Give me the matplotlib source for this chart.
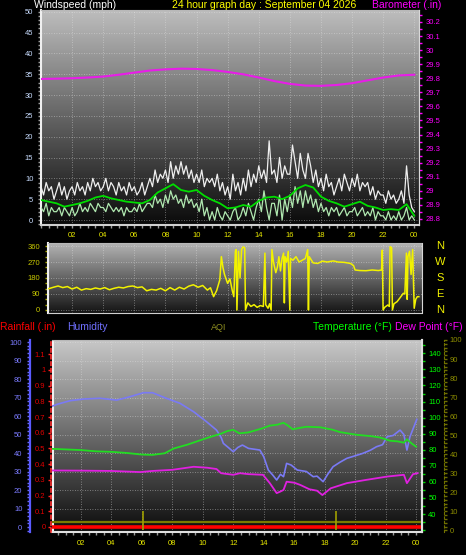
import numpy as np
import matplotlib
matplotlib.use("Agg")
import matplotlib.pyplot as plt
from matplotlib.colors import LinearSegmentedColormap
from matplotlib.ticker import MultipleLocator
from matplotlib.lines import Line2D
import matplotlib.transforms as mtransforms

plt.rcParams['font.family'] = ['Liberation Sans', 'DejaVu Sans']

# ---------------- data ----------------
title_text = "24 hour graph day : September 04 2026"
hour_ticks = list(range(2, 25, 2))
hour_labels = ['%02d' % (h % 24) for h in hour_ticks]

# wind gust (mph), every 10 minutes
gust = [8, 6, 9, 7, 8, 5,
        7, 9, 6, 8, 5, 7,
        8, 6, 9, 7, 8, 6,
        9, 7, 10, 8, 9, 7,
        8, 10, 7, 9, 8, 6,
        9, 7, 8, 6, 9, 7,
        8, 6, 7, 9, 6, 8,
        10, 8, 12, 9, 11, 10,
        12, 9, 14, 10, 13, 11,
        14, 11, 13, 10, 12, 9,
        11, 9, 12, 8, 10, 9,
        10, 8, 11, 7, 9, 6,
        8, 5, 11, 7, 9, 6,
        10, 7, 12, 8, 11, 9,
        13, 10, 12, 9, 19, 11,
        12, 9, 15, 10, 13, 11,
        11, 18, 14, 10, 16, 12,
        10, 16, 13, 9, 12, 8,
        10, 7, 11, 8, 9, 6,
        8, 10, 7, 11, 9, 7,
        10, 8, 11, 7, 9, 8,
        9, 6, 8, 5, 7, 6,
        6, 4, 7, 5, 6, 4,
        5, 7, 4, 13, 6, 3,
        2]
# wind speed (mph), every 10 minutes
wind = [3, 2, 4, 1, 3, 2,
        2, 3, 1, 3, 2, 1,
        3, 1, 2, 4, 2, 3,
        2, 4, 3, 2, 4, 3,
        3, 2, 4, 3, 2, 3,
        2, 3, 1, 3, 2, 2,
        3, 2, 4, 2, 3, 4,
        4, 3, 6, 4, 5, 3,
        6, 4, 7, 5, 6, 4,
        5, 3, 6, 4, 5, 3,
        4, 2, 5, 1, 3, 0,
        2, 0, 3, 1, 0, 2,
        1, 0, 2, 3, 0, 1,
        3, 1, 4, 2, 0, 3,
        5, 2, 7, 3, 0, 4,
        4, 1, 6, 0, 5, 2,
        6, 3, 8, 4, 7, 3,
        7, 4, 6, 3, 5, 2,
        4, 2, 3, 1, 3, 2,
        3, 1, 2, 3, 1, 2,
        2, 3, 1, 2, 3, 1,
        2, 1, 3, 0, 2, 1,
        1, 0, 2, 0, 1, 0,
        2, 0, 1, 3, 0, 1,
        0]
# average wind speed (mph), every 30 minutes
avg_wind = [4.8, 4.4, 4.0, 3.2, 3.6, 4.0, 4.6, 5.4, 5.8, 5.2, 4.8, 4.4, 4.2, 4.0,
            4.8, 6.6, 7.6, 8.6, 7.2, 6.8, 7.2, 5.8, 4.8, 4.0, 2.8, 3.0, 3.6, 3.2,
            4.6, 5.4, 5.6, 5.0, 5.8, 7.6, 8.4, 7.8, 5.6, 4.6, 4.0, 3.2, 3.8, 4.4,
            3.4, 3.0, 2.4, 2.6, 2.4, 3.8, 1.0]

# barometer (inHg), hourly
baro_hours = list(range(0, 25))
baro = [29.795, 29.797, 29.800, 29.805, 29.812, 29.825, 29.840, 29.855, 29.863,
        29.868, 29.866, 29.858, 29.845, 29.828, 29.805, 29.780, 29.760, 29.748,
        29.746, 29.752, 29.765, 29.785, 29.805, 29.820, 29.825]

# wind direction (degrees)
dir_hours = [0.5, 0.8, 1.1, 1.4, 1.7, 2.0, 2.3, 2.6, 2.9, 3.2, 3.5, 3.8, 4.1, 4.4, 4.7,
             5.0, 5.3, 5.6, 5.9, 6.2, 6.5, 6.8, 7.1, 7.4, 7.7, 8.0, 8.3, 8.6, 8.9, 9.2,
             9.5, 9.8, 10.1, 10.4, 10.7, 10.9, 11.1, 11.3, 11.5, 11.6, 11.7, 11.8, 12.0,
             12.15, 12.3, 12.4, 12.5, 12.55, 12.6, 12.7, 12.8, 12.9, 13.0, 13.1, 13.15,
             13.3, 13.5, 13.7, 13.9, 14.1, 14.3, 14.4, 14.45, 14.6, 14.7, 14.8, 14.85,
             14.95, 15.1, 15.2, 15.3, 15.4, 15.5, 15.6, 15.65, 15.7, 15.8, 15.9, 16.0,
             16.05, 16.2, 16.4, 16.6, 16.8, 17.0, 17.15, 17.2, 17.25, 17.5, 17.8, 18.1,
             18.4, 18.8, 19.1, 19.5, 19.9, 20.1, 20.2, 20.5, 20.9, 21.3, 21.7, 21.9,
             21.95, 22.0, 22.1, 22.3, 22.4, 22.45, 22.55, 22.6, 22.7, 22.9, 23.1, 23.3,
             23.4, 23.5, 23.55, 23.6, 23.7, 23.8, 23.9, 24.0, 24.1, 24.2, 24.3]
dir_deg = [120, 128, 135, 126, 132, 118, 128, 112, 120, 116, 124, 118, 126, 114, 122,
           128, 124, 132, 135, 126, 130, 108, 116, 112, 122, 108, 126, 112, 128, 118,
           134, 142, 128, 138, 112, 125, 75, 110, 170, 300, 240, 200, 150,
           175, 110, 75, 330, 340, 0, 330, 180, 340, 355, 350, 0,
           40, 20, 30, 15, 25, 20, 320, 30, 10, 35, 0, 340,
           270, 210, 240, 300, 220, 290, 320, 40, 300, 270, 330, 0,
           290, 280, 300, 270, 280, 290, 340, 0, 300, 265, 262, 275,
           270, 276, 270, 268, 262, 250, 225, 222, 221, 225, 222, 225,
           337, 0, 15, 28, 20, 356, 350, 0, 35, 47, 70, 94,
           90, 320, 60, 300, 330, 200, 340, 10, 60, 75, 75]
compass_labels = ['N', 'W', 'S', 'E', 'N']
compass_deg = [360, 270, 180, 90, 0]

# bottom panel
hum_hours = [0, 0.5, 1.3, 2.2, 3.25, 4.35, 5.2, 6.1, 6.7, 7.6, 8.5, 9.4, 10.25, 10.9,
             11.2, 11.35, 11.6, 12.0, 12.3, 12.6, 13.0, 13.75, 14.0, 14.3, 14.6, 14.85,
             15.1, 15.3, 15.5, 15.8, 16.2, 16.8, 17.25, 17.5, 17.9, 18.2, 18.55, 19.0,
             19.45, 20.0, 20.5, 21.0, 21.4, 21.8, 22.1, 22.5, 22.95, 23.2, 23.4, 23.6,
             23.8, 24.05]
humidity = [65.0, 66.5, 68.3, 69.2, 69.6, 68.6, 70.4, 72.6, 72.6, 69.6, 66.9, 62.3, 56.9,
            52.4, 48.5, 45.2, 43.5, 40.7, 43.0, 44.3, 42.5, 41.6, 38.0, 30.8, 28.0, 25.4,
            28.5, 27.2, 34.4, 33.5, 30.8, 30.0, 27.2, 27.5, 24.5, 28.5, 32.6, 35.0, 37.1,
            38.5, 39.8, 41.5, 43.4, 44.5, 48.8, 49.5, 52.4, 50.0, 41.6, 48.8, 53.0, 58.2]

temp_hours = [0, 1, 2, 3, 4, 5, 6, 6.7, 7.5, 8.1, 9, 9.8, 10.5, 11.2, 11.6, 12.0, 12.4,
              13.0, 13.9, 14.4, 14.9, 15.3, 15.6, 15.9, 16.3, 16.8, 17.7, 18.5, 19.0,
              20.1, 21.0, 21.6, 22.3, 22.8, 23.2, 23.4, 23.7, 24.0]
temperature = [80.6, 80.2, 79.8, 79.0, 78.7, 78.0, 77.0, 76.8, 77.8, 80.8, 83.2, 85.8,
               88.0, 90.0, 91.6, 92.4, 90.2, 90.8, 93.3, 95.0, 95.6, 96.8, 95.0, 92.7,
               93.5, 94.3, 94.0, 92.5, 91.0, 89.3, 88.5, 87.7, 85.6, 85.2, 84.4, 86.5,
               84.0, 81.9]

dew_hours = [0, 2, 4, 5.9, 6.7, 8, 9.4, 10.3, 10.9, 11.2, 12.0, 12.44, 13.0, 13.95, 14.4,
             14.85, 15.1, 15.3, 15.5, 16.0, 16.4, 17.0, 17.5, 17.85, 18.4, 19.45, 20.7,
             22.1, 23.2, 23.4, 23.6, 23.8, 24.1]
dew_point = [67.1, 67.0, 66.8, 66.1, 66.8, 67.5, 69.4, 68.8, 68.0, 65.4, 64.4, 65.4, 64.8,
             64.4, 59.2, 53.0, 54.0, 55.0, 60.1, 59.5, 58.1, 55.4, 54.5, 51.8, 56.0, 59.2,
             61.2, 63.3, 64.4, 59.2, 62.0, 64.8, 65.4]

rain_hours = [0, 24.4]
rainfall = [0.0, 0.0]

aqi_hours = [0, 24.4]
aqi = [4.5, 4.5]
aqi_spike_hours = [6.05, 18.75]
aqi_spike_vals = [10, 10]

# ---------------- layout ----------------
W, H = 466, 555
DPI = 100
PT = 72.0 / DPI

fig = plt.figure(figsize=(W / DPI, H / DPI), dpi=DPI, facecolor='black')


def px_axes(l, t, r, b):
    ax = fig.add_axes([l / W, 1 - b / H, (r - l) / W, (b - t) / H])
    ax.set_facecolor('black')
    return ax


def gradient(ax, top, bottom):
    cmap = LinearSegmentedColormap.from_list('g', [bottom, top])
    g = np.linspace(1, 0, 256).reshape(-1, 1)
    ax.imshow(g, extent=[0, 1, 0, 1], transform=ax.transAxes, aspect='auto',
              cmap=cmap, vmin=0, vmax=1, zorder=0, interpolation='bilinear')


def ftext(x, y, s, **kw):
    fig.text(x / W, 1 - y / H, s, **kw)


grid_kw = dict(color='#e6e6e6', linestyle=(0, (1, 2)), linewidth=0.6, alpha=0.55)
TS = 5.5

# ---- top panel: wind + barometer ----
ax1 = px_axes(41, 10, 419, 225)
gradient(ax1, '#bebebe', '#0a0a0a')
t10 = np.arange(len(gust)) / 6.0
t30 = np.arange(len(avg_wind)) / 2.0
ax1.plot(t10, gust, color='#efefef', lw=0.9, zorder=3)
ax1.plot(t10, wind, color='#b0e8b0', lw=0.9, zorder=4)
ax1.plot(t30, avg_wind, color='#00dd00', lw=1.3, zorder=5)
ax1.set_xlim(0, 24.3)
ax1.set_ylim(-1.2, 50.4)
ax1.set_yticks(range(0, 51, 5))
ax1.yaxis.set_minor_locator(MultipleLocator(1))
ax1.set_xticks(hour_ticks)
ax1.set_xticklabels(hour_labels)
ax1.xaxis.set_minor_locator(MultipleLocator(0.5))
ax1.tick_params(axis='y', which='both', colors='#9a9a9a', labelcolor='#c8dcff',
                labelsize=TS, length=2.5, width=1, pad=3)
ax1.tick_params(axis='x', which='both', colors='#9a9a9a', labelcolor='#e6e600',
                labelsize=TS, length=2, width=1, pad=3)
ax1.set_axisbelow(True)
ax1.grid(True, which='major', **grid_kw)
ax1.spines['left'].set_color('#f0f0f0')
ax1.spines['left'].set_linewidth(1.5)
ax1.spines['bottom'].set_color('#d0d0d0')
ax1.spines['bottom'].set_linewidth(1.5)
ax1.spines['top'].set_color('#b8b8b8')
ax1.spines['right'].set_color('#d8d8d8')

axb = ax1.twinx()
axb.plot(baro_hours, baro, color='#e81de8', lw=1.5, zorder=6)
axb.set_ylim(28.757, 30.285)
bticks = np.round(np.arange(28.8, 30.21, 0.1), 1)
axb.set_yticks(bticks)
axb.set_yticklabels([('%g' % v) for v in bticks])
axb.yaxis.set_minor_locator(MultipleLocator(0.05))
axb.tick_params(axis='y', which='both', colors='#ff00ff', labelcolor='#ff00ff',
                labelsize=TS, length=2.5, width=1, pad=2)
for s in ['top', 'bottom', 'left']:
    axb.spines[s].set_visible(False)
axb.spines['right'].set_color('#d8d8d8')

# ---- direction panel ----
ax2 = px_axes(48, 243, 421.5, 313)
gradient(ax2, '#b4b4b4', '#141414')
ax2.plot(dir_hours, dir_deg, color='#f2f200', lw=1.1, zorder=3)
ax2.set_xlim(0.45, 24.47)
ax2.set_ylim(-16.9, 376.9)
ax2.set_yticks([0, 90, 180, 270, 360])
ax2.yaxis.set_minor_locator(MultipleLocator(30))
ax2.set_xticks(hour_ticks)
ax2.set_xticklabels([])
ax2.tick_params(axis='x', length=0)
ax2.tick_params(axis='y', which='both', colors='#b0b000', labelcolor='#c8c800',
                labelsize=TS, length=2.5, width=1, pad=3)
ax2.set_axisbelow(True)
ax2.grid(True, which='major', **grid_kw)
ax2.spines['left'].set_color('#f0f0f0')
ax2.spines['left'].set_linewidth(1.5)
ax2.spines['bottom'].set_color('#d0d0d0')
ax2.spines['top'].set_color('#b8b8b8')
ax2.spines['right'].set_color('#d8d8d8')
btr = mtransforms.blended_transform_factory(ax2.transAxes, ax2.transData)
for lab, d in zip(compass_labels, compass_deg):
    ax2.text(1.05, d, lab, transform=btr, color='#f0f000', fontsize=8,
             ha='center', va='center', clip_on=False)

# ---- bottom panel ----
ax3 = px_axes(52, 340, 422, 532)
gradient(ax3, '#c8c8c8', '#0c0c0c')
ax3.plot(hum_hours, humidity, color='#7a7af5', lw=1.2, zorder=3)
ax3.set_xlim(0.1, 24.39)
ax3.set_ylim(-2.7, 101.1)
ax3.set_yticks(range(0, 101, 10))
ax3.yaxis.set_minor_locator(MultipleLocator(2))
ax3.set_xticks(hour_ticks)
ax3.set_xticklabels(hour_labels)
ax3.xaxis.set_minor_locator(MultipleLocator(0.5))
ax3.tick_params(axis='y', which='both', colors='#6a6aff', labelcolor='#7b7bff',
                labelsize=TS, length=2.5, width=1, pad=3)
ax3.tick_params(axis='x', which='both', colors='#9a9a9a', labelcolor='#e6e600',
                labelsize=TS, length=2, width=1, pad=4)
ax3.set_axisbelow(True)
ax3.grid(True, which='major', **grid_kw)
ax3.spines['left'].set_position(('outward', 22 * PT))
ax3.spines['left'].set_color('#5a5aff')
ax3.spines['left'].set_linewidth(1.6)
ax3.spines['bottom'].set_color('#e0e0e0')
ax3.spines['bottom'].set_linewidth(1.5)
ax3.spines['top'].set_color('#b8b8b8')
ax3.spines['right'].set_color('#e0e0e0')
ax3.spines['right'].set_linewidth(1.5)
ax3.add_line(Line2D([0.004, 0.004], [0, 1], transform=ax3.transAxes,
                    color='#f0f0f0', lw=1.5, zorder=2))

axR = ax3.twinx()
axR.yaxis.tick_left()
axR.yaxis.set_label_position('left')
for s in ['top', 'right', 'bottom']:
    axR.spines[s].set_visible(False)
axR.spines['left'].set_visible(True)
axR.spines['left'].set_position(('outward', 1 * PT))
axR.spines['left'].set_color('#ff3030')
axR.spines['left'].set_linestyle((0, (2, 2)))
axR.spines['left'].set_linewidth(1.2)
axR.set_ylim(-0.032, 1.191)
rticks = np.round(np.arange(0, 1.15, 0.1), 1)
axR.set_yticks(rticks)
axR.set_yticklabels([('%g' % v) for v in rticks])
axR.tick_params(axis='y', colors='#ff2020', labelcolor='#e00000',
                labelsize=TS, length=2.5, width=1, pad=1.5)

axA = ax3.twinx()
for s in ['top', 'left', 'bottom']:
    axA.spines[s].set_visible(False)
axA.spines['right'].set_position(('outward', 22 * PT))
axA.spines['right'].set_color('#707000')
axA.spines['right'].set_linestyle((0, (2, 2)))
axA.set_ylim(-0.88, 99.6)
axA.set_yticks(range(0, 101, 10))
axA.yaxis.set_minor_locator(MultipleLocator(2))
axA.tick_params(axis='y', which='both', colors='#707000', labelcolor='#8c8c00',
                labelsize=TS, length=2, width=1, pad=2)
axA.plot(aqi_hours, aqi, color='#7a7a00', lw=1.6, zorder=3)
axA.vlines(aqi_spike_hours, 0, aqi_spike_vals, color='#a0a000', lw=1.2, zorder=3)

axR.plot(rain_hours, rainfall, color='#ff0000', lw=2.6, zorder=4, clip_on=True)

axT = ax3.twinx()
for s in ['top', 'left', 'bottom']:
    axT.spines[s].set_visible(False)
axT.spines['right'].set_color('#e0e0e0')
axT.spines['right'].set_linewidth(1.5)
axT.set_ylim(28.8, 148.3)
axT.set_yticks(range(40, 141, 10))
axT.yaxis.set_minor_locator(MultipleLocator(5))
axT.tick_params(axis='y', which='both', colors='#00d000', labelcolor='#00ff00',
                labelsize=TS, length=2.5, width=1, pad=2)
axT.plot(temp_hours, temperature, color='#22dd22', lw=1.3, zorder=4)
axT.plot(dew_hours, dew_point, color='#e020e0', lw=1.3, zorder=4)

# ---- texts ----
tkw = dict(fontsize=7.5, ha='left', va='center')
ftext(34, 5.5, 'Windspeed (mph)', color='white', **tkw)
ftext(172, 5.5, title_text, color='#ffff00', **tkw)
ftext(372, 5.5, 'Barometer (.in)', color='#ff00ff', **tkw)
ftext(0, 327, 'Rainfall (.in)', color='#ff0000', **tkw)
ftext(67, 327, 'Humidity', color='#7070ff', **tkw)
ftext(211, 327, 'AQI', color='#8f8f20', fontsize=6.5, ha='left', va='center')
ftext(313, 327, 'Temperature (°F)', color='#00ff00', **tkw)
ftext(395, 327, 'Dew Point (°F)', color='#ff00ff', **tkw)

fig.savefig('out.png', dpi=DPI, facecolor='black')
